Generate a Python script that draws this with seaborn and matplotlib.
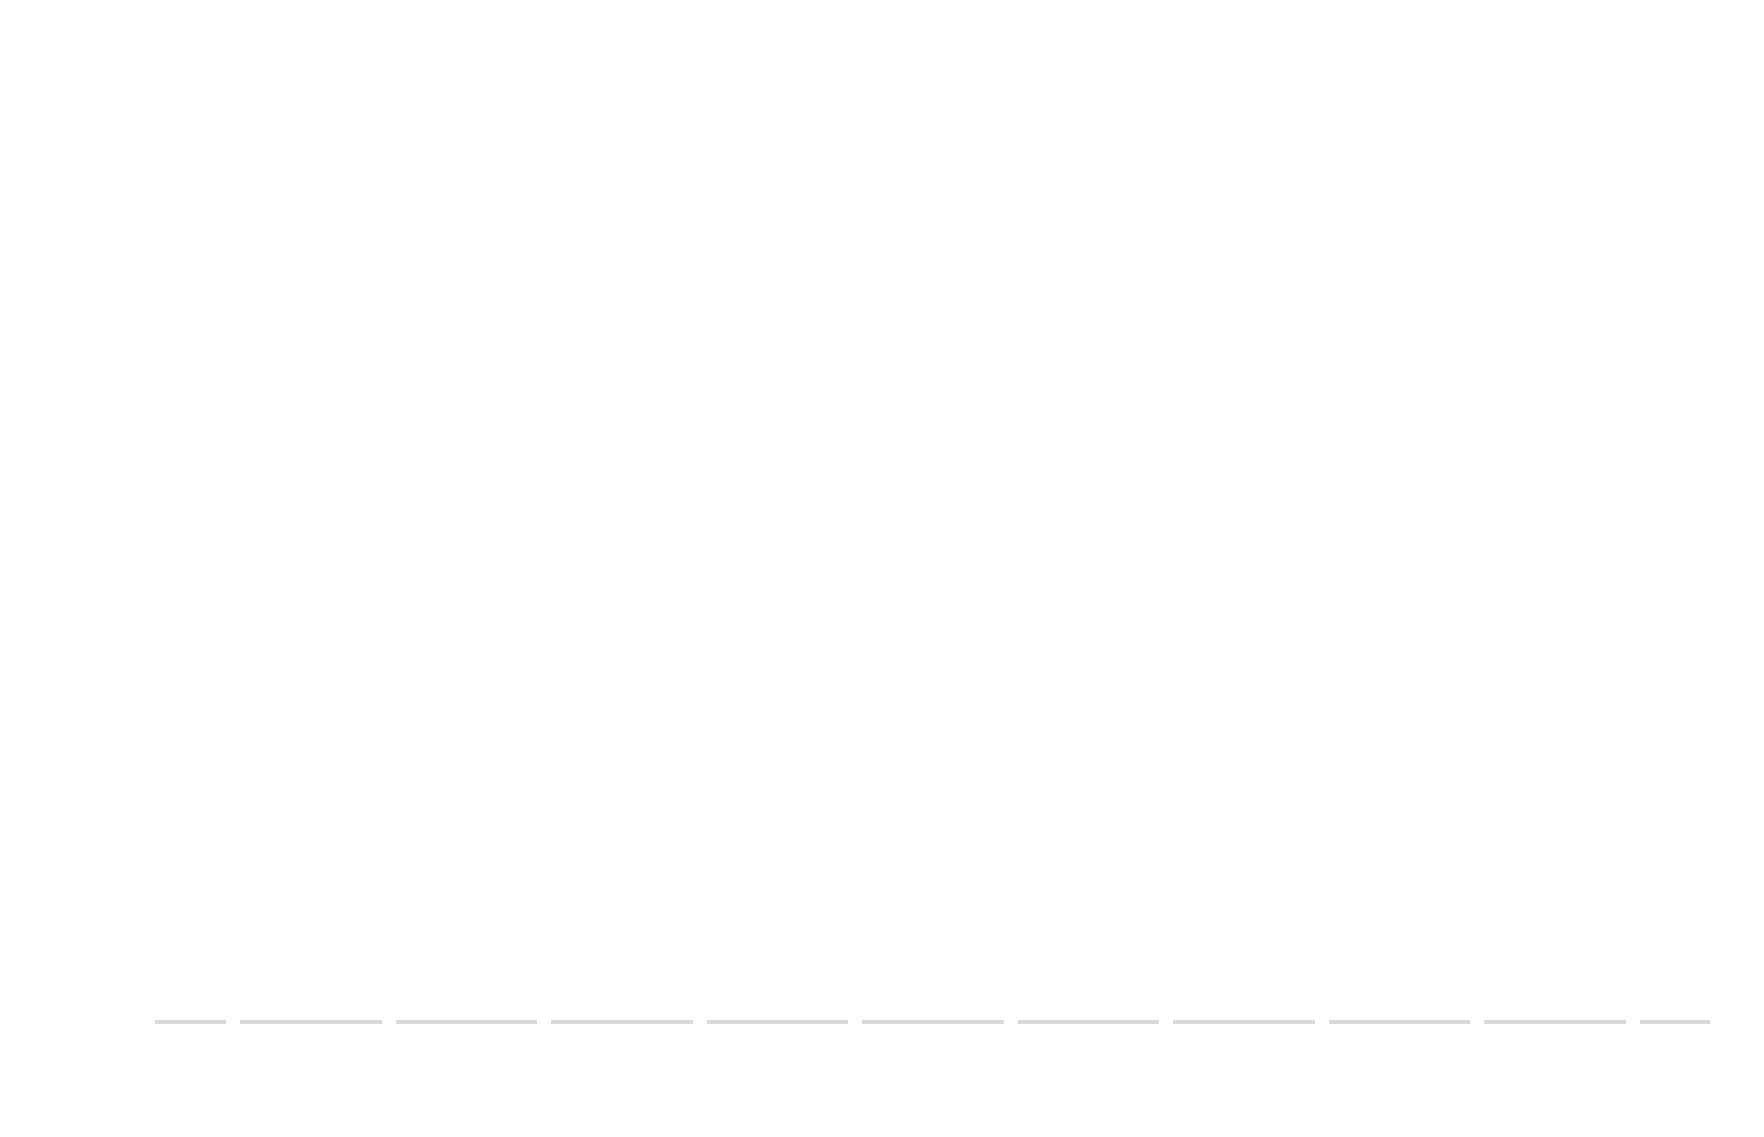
import matplotlib
matplotlib.use("Agg")
import matplotlib.pyplot as plt
import seaborn as sns
import pandas as pd

categories = ["c%d" % i for i in range(10)]
values = [0, 0.004, 0, 0, 0, 0, 0, 0, 0, 0]

sns.set_theme(style="white")
fig = plt.figure(figsize=(17.65, 11.37), dpi=100)
ax = fig.add_axes([0.088, 0.093, 0.881, 0.85])
ax.axhline(0, color="#d9d9d9", lw=3, zorder=1)
df = pd.DataFrame({"cat": categories, "val": values})
sns.barplot(data=df, x="cat", y="val", color="white", width=0.09, ax=ax,
            zorder=3, linewidth=0, saturation=1)
ax.set_ylim(-0.01, 1)
ax.set_xlim(-0.5, 9.5)
for b in ax.patches:
    b.set_y(-0.004)
    b.set_height(0.008)
ax.set_axis_off()
fig.savefig("out.png", dpi=100, facecolor="white")
